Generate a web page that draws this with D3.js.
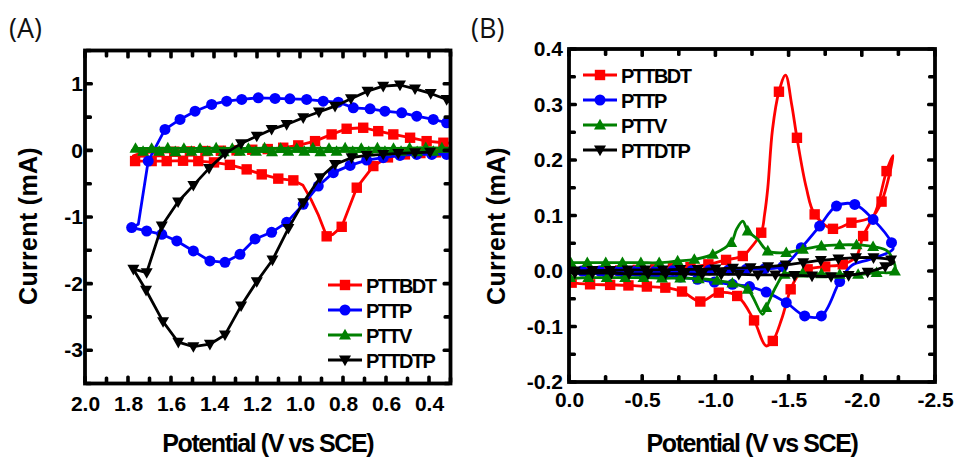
<!DOCTYPE html>
<html><head><meta charset="utf-8">
<script src="https://cdn.jsdelivr.net/npm/d3@7"></script>
<style>
body{margin:0;background:#fff}
svg{display:block}
</style></head><body>
<svg id="chart" width="958" height="457"></svg>
<script>
// ---------------- DATA ----------------
const seriesNames = ["PTTBDT", "PTTP", "PTTV", "PTTDTP"];

// Panel A tick labels
const A_xTicks = [2.0, 1.8, 1.6, 1.4, 1.2, 1.0, 0.8, 0.6, 0.4];
const A_yTicks = [1, 0, -1, -2, -3];
// Panel B tick labels
const B_xTicks = [0.0, -0.5, -1.0, -1.5, -2.0, -2.5];
const B_yTicks = [0.4, 0.3, 0.2, 0.1, 0.0, -0.1, -0.2];

// points: [potential (V), current (mA)], third value 0 = line point without marker
const A_PTTBDT = [
  [0.30,0.11,0],[0.333,0.115],[0.411,0.139],[0.488,0.19],[0.566,0.24],[0.636,0.289],[0.706,0.34],
  [0.783,0.325],[0.853,0.24],[0.930,0.139],[1.008,0.075],[1.078,0.04],[1.150,0.02],[1.222,0.01],
  [1.295,0.0],[1.368,-0.005],[1.440,-0.01],[1.512,-0.015],[1.585,-0.02],[1.657,-0.025],[1.730,-0.03],
  [1.775,-0.08,0],[1.767,-0.16],[1.690,-0.16],[1.620,-0.16],[1.544,-0.155],[1.473,-0.16],[1.400,-0.18],
  [1.326,-0.217],[1.248,-0.285],[1.178,-0.36],[1.101,-0.424],[1.031,-0.45],[0.986,-0.525,0],
  [0.949,-0.735,0],[0.916,-0.96,0],[0.876,-1.29],[0.847,-1.26,0],[0.806,-1.147],[0.736,-0.56],
  [0.659,-0.235],[0.591,-0.105],[0.512,-0.06],[0.440,-0.04],[0.368,-0.03],[0.30,-0.02,0]
];
const A_PTTP = [
  [0.30,0.41,0],[0.318,0.415],[0.380,0.465],[0.457,0.514],[0.527,0.565],[0.605,0.589],[0.674,0.625],
  [0.752,0.640],[0.822,0.724],[0.892,0.739],[0.969,0.765],[1.047,0.775],[1.116,0.78],[1.194,0.79],
  [1.271,0.765],[1.341,0.739],[1.411,0.69],[1.488,0.589],[1.558,0.465],[1.628,0.315],[1.706,-0.16],
  [1.752,-1.11,0],[1.783,-1.159],[1.713,-1.21],[1.643,-1.26],[1.573,-1.36],[1.496,-1.51],[1.419,-1.66],
  [1.349,-1.68],[1.279,-1.56],[1.209,-1.33],[1.132,-1.23],[1.062,-1.08],[0.985,-0.81],[0.915,-0.535],
  [0.845,-0.334],[0.767,-0.225],[0.690,-0.145],[0.613,-0.109],[0.535,-0.075],[0.457,-0.06],
  [0.387,-0.06],[0.318,-0.06],[0.30,-0.06,0]
];
const A_PTTV = [
  [0.30,0.035,0],[0.34,0.035],[0.415,0.04],[0.49,0.035],[0.565,0.03],[0.64,0.035],[0.715,0.03],
  [0.79,0.035],[0.865,0.03],[0.94,0.035],[1.015,0.03],[1.09,0.03],[1.165,0.035],[1.24,0.03],
  [1.315,0.03],[1.39,0.035],[1.465,0.03],[1.54,0.03],[1.615,0.035],[1.69,0.03],[1.765,0.03],
  [1.78,0.0,0],[1.73,-0.015],[1.655,-0.015],[1.58,-0.02],[1.505,-0.015],[1.43,-0.015],[1.355,-0.02],
  [1.28,-0.015],[1.205,-0.015],[1.13,-0.02],[1.055,-0.015],[0.98,-0.015],[0.905,-0.02],[0.83,-0.015],
  [0.755,-0.015],[0.68,-0.02],[0.605,-0.015],[0.53,-0.015],[0.455,-0.02],[0.38,-0.015],[0.305,-0.015,0]
];
const A_PTTDTP = [
  [0.395,-0.025],[0.465,-0.035],[0.543,-0.045],[0.613,-0.06],[0.690,-0.075],[0.760,-0.11],[0.837,-0.21],
  [0.907,-0.41],[0.985,-0.784],[1.054,-1.17],[1.128,-1.646],[1.201,-1.97],[1.274,-2.334],[1.349,-2.77],
  [1.419,-2.91],[1.496,-2.946],[1.566,-2.88],[1.637,-2.57],[1.716,-2.10],[1.775,-1.784],[1.713,-1.834],
  [1.643,-1.135],[1.567,-0.772],[1.496,-0.525],[1.423,-0.27],[1.349,-0.048],[1.274,0.102],[1.201,0.214],
  [1.132,0.315],[1.062,0.390],[0.985,0.490],[0.912,0.577],[0.837,0.664],[0.763,0.777],[0.686,0.889],
  [0.613,0.964],[0.535,0.982],[0.465,0.925],[0.392,0.855],[0.318,0.765],[0.298,0.705,0]
];

const B_PTTBDT = [
  [0,-0.02,0],[-0.018,-0.021],[-0.144,-0.024],[-0.281,-0.025],[-0.406,-0.026],[-0.532,-0.028],
  [-0.658,-0.030],[-0.772,-0.037],[-0.897,-0.055],[-1.023,-0.039],[-1.149,-0.045],[-1.264,-0.089],
  [-1.346,-0.135,0],[-1.392,-0.126],[-1.452,-0.087,0],[-1.514,-0.033],[-1.565,-0.008,0],[-1.63,0.003],
  [-1.75,0.008],[-1.87,0.012],[-1.96,0.025,0],[-2.009,0.063],[-2.096,0.108,0],[-2.169,0.18],
  [-2.214,0.208,0],[-2.135,0.125],[-2.068,0.097,0],[-1.929,0.087],[-1.803,0.076],[-1.678,0.102],
  [-1.621,0.150,0],[-1.557,0.240],[-1.521,0.30,0],[-1.479,0.353,0],[-1.434,0.323],[-1.390,0.255,0],
  [-1.358,0.150,0],[-1.336,0.102,0],[-1.313,0.069],[-1.233,0.039,0],[-1.187,0.027],[-1.073,0.020],
  [-0.952,0.012],[-0.83,0.007],[-0.71,0.005],[-0.59,0.003],[-0.47,0.002],[-0.35,0.001],[-0.23,0.0],
  [-0.11,0.0],[0,0,0]
];
const B_PTTP = [
  [0,-0.003,0],[-0.137,-0.004],[-0.26,-0.005],[-0.384,-0.006],[-0.514,-0.008],[-0.637,-0.010],
  [-0.760,-0.011],[-0.877,-0.015],[-0.993,-0.020],[-1.116,-0.024],[-1.233,-0.028],[-1.347,-0.038],
  [-1.484,-0.057],[-1.610,-0.081],[-1.724,-0.081],[-1.849,-0.019],[-1.932,0.010,0],[-2.055,0.021,0],
  [-2.212,0.039,0],[-2.203,0.051],[-2.077,0.093],[-1.952,0.120],[-1.827,0.117],[-1.712,0.081],
  [-1.587,0.042],[-1.46,0.008],[-1.336,0.004],[-1.21,0.003],[-1.09,0.002],[-0.96,0.002],[-0.84,0.001],
  [-0.71,0.001],[-0.59,0.0],[-0.46,0.0],[-0.34,0.0],[-0.21,0.0],[-0.09,0.0],[0,0,0]
];
const B_PTTV = [
  [0,-0.01,0],[-0.007,-0.012],[-0.132,-0.012],[-0.258,-0.012],[-0.384,-0.012],[-0.509,-0.012],
  [-0.635,-0.013],[-0.760,-0.013],[-0.886,-0.014],[-1.012,-0.017],[-1.116,-0.022],[-1.221,-0.033],
  [-1.322,-0.078,0],[-1.347,-0.066],[-1.416,-0.027,0],[-1.473,-0.006],[-1.596,-0.004],[-1.724,-0.005],
  [-1.849,-0.006],[-1.975,-0.006],[-2.101,-0.003],[-2.226,0.0],[-2.178,0.035,0],[-2.077,0.044],
  [-1.964,0.047],[-1.849,0.047],[-1.724,0.045],[-1.598,0.039],[-1.484,0.033],[-1.358,0.036],
  [-1.288,0.057,0],[-1.221,0.072],[-1.187,0.090,0],[-1.144,0.075,0],[-1.108,0.051],[-0.982,0.030],
  [-0.856,0.021],[-0.742,0.018],[-0.616,0.015],[-0.491,0.015],[-0.365,0.015],[-0.251,0.015],
  [-0.125,0.015],[-0.012,0.015],[0,0.015,0]
];
const B_PTTDTP = [
  [0,-0.003,0],[-0.04,-0.004],[-0.16,-0.004],[-0.29,-0.004],[-0.41,-0.005],[-0.54,-0.005],[-0.66,-0.005],
  [-0.79,-0.005],[-0.91,-0.006],[-1.04,-0.006],[-1.16,-0.006],[-1.29,-0.007],[-1.41,-0.007],[-1.54,-0.008],
  [-1.66,-0.009],[-1.79,-0.010],[-1.91,-0.008],[-2.04,-0.002],[-2.16,0.008],[-2.22,0.016,0],
  [-2.20,0.02],[-2.08,0.024],[-1.96,0.024],[-1.84,0.022],[-1.72,0.019],[-1.60,0.015],[-1.48,0.011],
  [-1.36,0.008],[-1.24,0.006],[-1.12,0.005],[-1.00,0.004],[-0.88,0.003],[-0.76,0.003],[-0.64,0.002],
  [-0.52,0.002],[-0.40,0.002],[-0.28,0.001],[-0.16,0.001],[-0.04,0.0],[0,0,0]
];

// ---------------- STYLE ----------------
const colors = ["#ff0000", "#0000ff", "#008000", "#000000"];
const shapes = ["square", "circle", "up", "down"];
const FONT = "'Liberation Sans', Arial, sans-serif";

const svg = d3.select("#chart");

function drawMarker(sel, shape, color, cx, cy) {
  if (shape === "square") {
    sel.append("rect").attr("x", cx - 5.2).attr("y", cy - 5.2).attr("width", 10.4).attr("height", 10.4).attr("fill", color);
  } else if (shape === "circle") {
    sel.append("circle").attr("cx", cx).attr("cy", cy).attr("r", 5.5).attr("fill", color);
  } else if (shape === "up") {
    sel.append("path").attr("d", `M${cx},${cy-6.2}L${cx+6},${cy+4.4}L${cx-6},${cy+4.4}Z`).attr("fill", color);
  } else {
    sel.append("path").attr("d", `M${cx},${cy+6.2}L${cx+6},${cy-4.4}L${cx-6},${cy-4.4}Z`).attr("fill", color);
  }
}

function fmt1(d) { return d.toFixed(1); }
function fmt0(d) { return String(d); }

function drawPanel(p) {
  const x = d3.scaleLinear().domain(p.xDomain).range([p.left, p.right]);
  const y = d3.scaleLinear().domain(p.yDomain).range([p.bottom, p.top]);
  const g = svg.append("g");

  g.append("clipPath").attr("id", "clip" + p.id).append("rect")
    .attr("x", p.left).attr("y", p.top).attr("width", p.right - p.left).attr("height", p.bottom - p.top);

  // series
  const plot = g.append("g").attr("clip-path", `url(#clip${p.id})`);
  const line = d3.line().x(d => x(d[0])).y(d => y(d[1])).curve(p.curve);
  p.series.forEach((s, i) => {
    const sg = plot.append("g");
    sg.append("path").attr("d", line(s)).attr("fill", "none").attr("stroke", colors[i])
      .attr("stroke-width", 2.8).attr("stroke-linejoin", "round");
    s.filter(d => d[2] !== 0).forEach(d => drawMarker(sg, shapes[i], colors[i], x(d[0]), y(d[1])));
  });

  // frame
  g.append("rect").attr("x", p.left).attr("y", p.top).attr("width", p.right - p.left)
    .attr("height", p.bottom - p.top).attr("fill", "none").attr("stroke", "#000").attr("stroke-width", 3.8);

  // tick marks (inward on all four sides)
  const tg = g.append("g");
  const tw = 3.6;
  const addX = (vals, len) => vals.forEach(v => {
    const xx = x(v);
    tg.append("rect").attr("x", xx - tw / 2).attr("y", p.bottom - len).attr("width", tw).attr("height", len).attr("rx", 1.5).attr("fill", "#000");
    tg.append("rect").attr("x", xx - tw / 2).attr("y", p.top).attr("width", tw).attr("height", len).attr("rx", 1.5).attr("fill", "#000");
  });
  const addY = (vals, len) => vals.forEach(v => {
    const yy = y(v);
    tg.append("rect").attr("y", yy - tw / 2).attr("x", p.left).attr("height", tw).attr("width", len).attr("rx", 1.5).attr("fill", "#000");
    tg.append("rect").attr("y", yy - tw / 2).attr("x", p.right - len).attr("height", tw).attr("width", len).attr("rx", 1.5).attr("fill", "#000");
  });
  addX(p.xTicks, 8); addX(p.xMinor, 7);
  addY(p.yTicks, 8); addY(p.yMinor, 7);

  // tick labels via d3 axes
  const axB = g.append("g").attr("transform", `translate(0,${p.bottom})`)
    .call(d3.axisBottom(x).tickValues(p.xTicks).tickSize(0).tickPadding(p.xPad).tickFormat(fmt1));
  const axL = g.append("g").attr("transform", `translate(${p.left},0)`)
    .call(d3.axisLeft(y).tickValues(p.yTicks).tickSize(0).tickPadding(p.yPad).tickFormat(p.yFmt));
  [axB, axL].forEach(ax => {
    ax.select(".domain").remove();
    ax.selectAll(".tick line").remove();
    ax.selectAll("text").attr("font-family", FONT).attr("font-weight", "bold")
      .attr("font-size", 21).attr("fill", "#000");
  });

  // legend
  seriesNames.forEach((name, i) => {
    const ly = p.legY + i * 25;
    const lg = g.append("g");
    lg.append("line").attr("x1", p.legX).attr("x2", p.legX + 34).attr("y1", ly).attr("y2", ly)
      .attr("stroke", colors[i]).attr("stroke-width", 3);
    drawMarker(lg, shapes[i], colors[i], p.legX + 17, ly);
    lg.append("text").attr("x", p.legX + 38).attr("y", ly + 7.5).text(name)
      .attr("font-family", FONT).attr("font-weight", "bold").attr("font-size", 20)
      .attr("letter-spacing", -1.6).attr("fill", "#000");
  });

  // axis titles
  g.append("text").attr("x", (p.left + p.right) / 2 + p.xTitleDx).attr("y", 452).attr("text-anchor", "middle")
    .attr("font-family", FONT).attr("font-weight", "bold").attr("font-size", 25).attr("letter-spacing", -1.4)
    .text("Potential (V vs SCE)");
  g.append("text").attr("transform", `translate(${p.yTitleX},${p.yTitleY}) rotate(-90)`).attr("text-anchor", "middle")
    .attr("font-family", FONT).attr("font-weight", "bold").attr("font-size", 25).attr("letter-spacing", 0.3)
    .text("Current (mA)");

  // panel label
  g.append("text").attr("x", p.tagX).attr("y", 38).text(p.tag)
    .attr("font-family", "'Open Sans', 'Noto Sans', sans-serif").attr("font-size", 27).attr("fill", "#111");
}

drawPanel({
  id: "A", tag: "(A)", tagX: 9,
  xDomain: [2.0, 0.3], yDomain: [-3.5, 1.5],
  left: 85, right: 450.5, top: 50.5, bottom: 383.5,
  xTicks: A_xTicks, yTicks: A_yTicks,
  xMinor: [1.9, 1.7, 1.5, 1.3, 1.1, 0.9, 0.7, 0.5, 0.3], yMinor: [1.5, 0.5, -0.5, -1.5, -2.5, -3.5],
  xPad: 13, yPad: 2, yFmt: fmt0,
  curve: d3.curveLinear,
  series: [A_PTTBDT, A_PTTP, A_PTTV, A_PTTDTP],
  legX: 328, legY: 285,
  xTitleDx: 0, yTitleX: 37, yTitleY: 226
});

drawPanel({
  id: "B", tag: "(B)", tagX: 471,
  xDomain: [0, -2.5], yDomain: [-0.2, 0.4],
  left: 569, right: 935, top: 49, bottom: 382,
  xTicks: B_xTicks, yTicks: B_yTicks,
  xMinor: [-0.25, -0.75, -1.25, -1.75, -2.25], yMinor: [0.35, 0.25, 0.15, 0.05, -0.05, -0.15],
  xPad: 10, yPad: 6, yFmt: fmt1,
  curve: d3.curveCatmullRom.alpha(0.5),
  series: [B_PTTBDT, B_PTTP, B_PTTV, B_PTTDTP],
  legX: 583, legY: 75,
  xTitleDx: 0, yTitleX: 505, yTitleY: 226
});
</script>
</body></html>
